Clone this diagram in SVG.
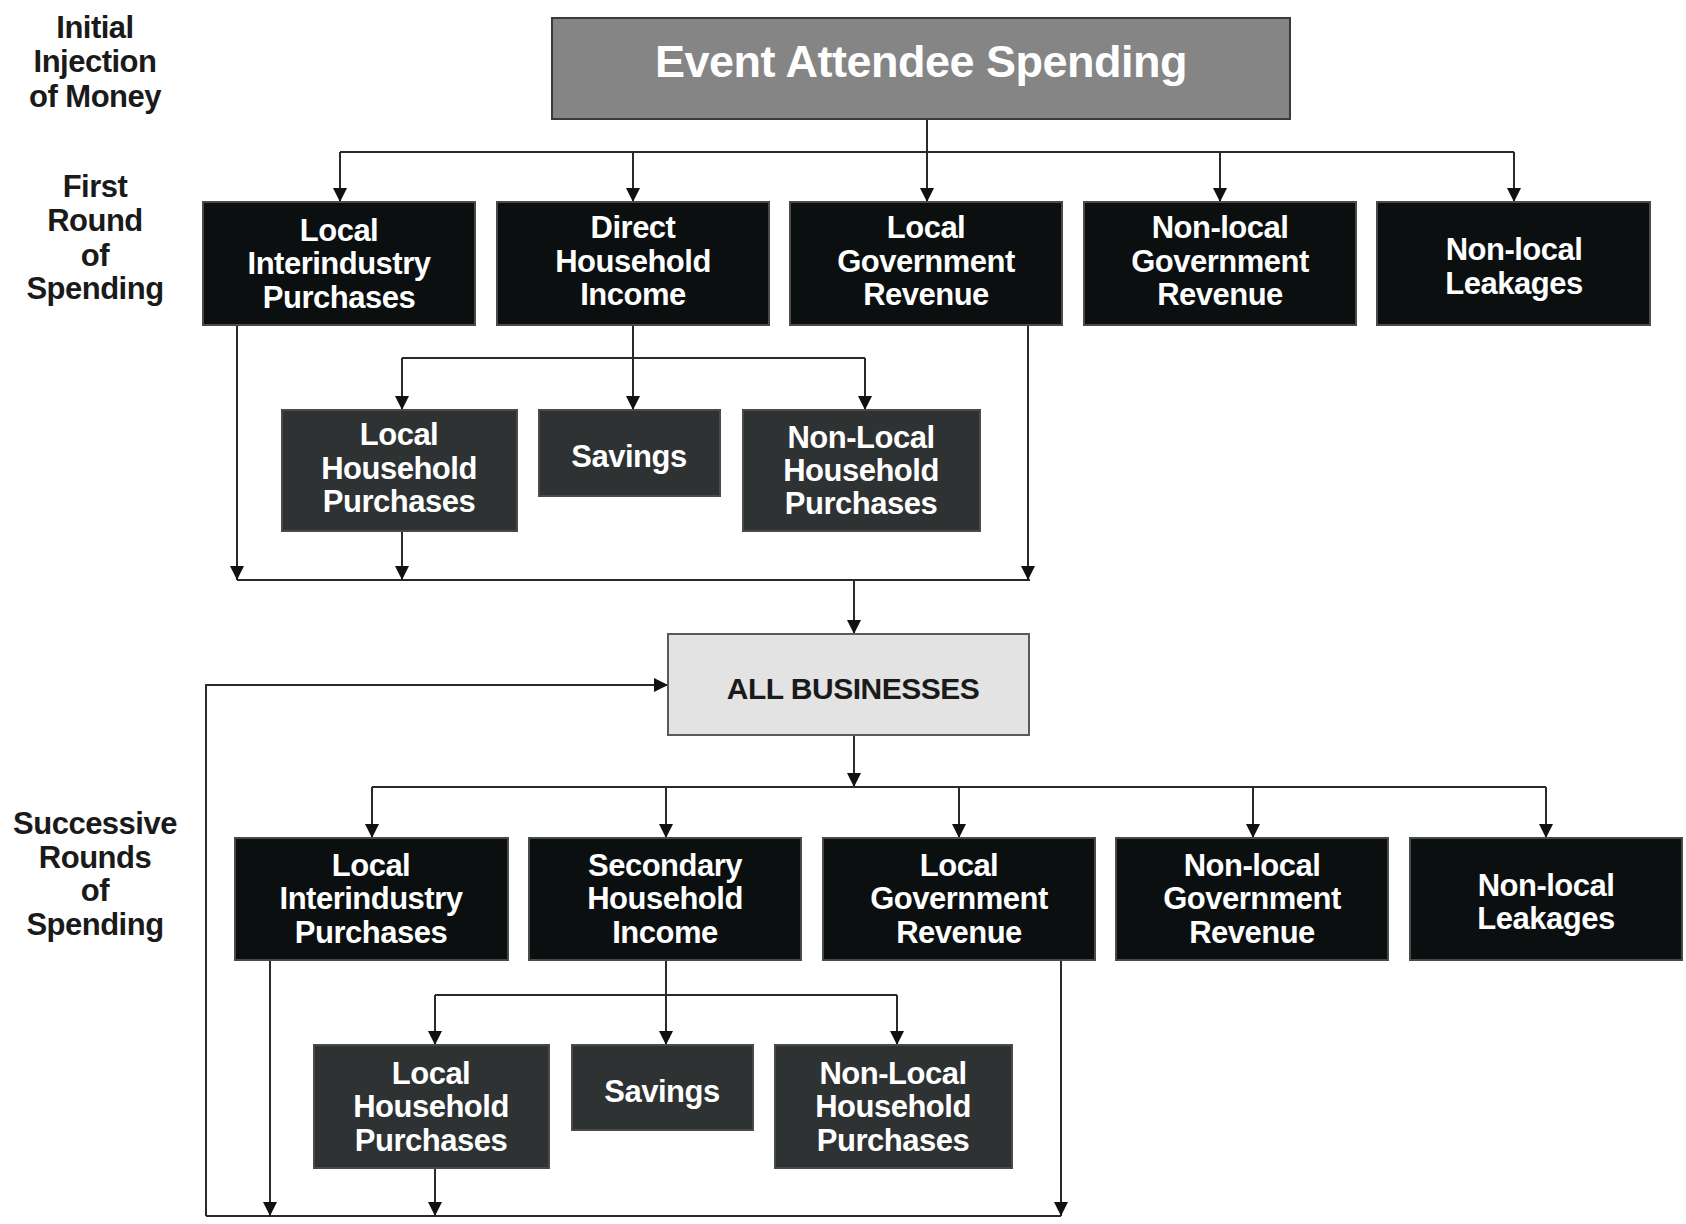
<svg xmlns="http://www.w3.org/2000/svg" width="1686" height="1224" viewBox="0 0 1686 1224">
<style>
.bk{fill:#0b0f10;stroke:#4a4a4a;stroke-width:2}
.dg{fill:#2f3233;stroke:#4a4a4a;stroke-width:2}
.t{font-family:"Liberation Sans",Arial,sans-serif;font-weight:bold;font-size:31px;fill:#fff;text-anchor:middle;letter-spacing:-0.5px}
.lb{font-family:"Liberation Sans",Arial,sans-serif;font-weight:bold;font-size:31px;fill:#1a1a1a;text-anchor:middle;letter-spacing:-0.5px}
.c{fill:none;stroke:#2a2a2a;stroke-width:2}
</style>
<defs>
<marker id="ah" markerUnits="userSpaceOnUse" markerWidth="14" markerHeight="16" viewBox="0 0 14 16" refX="14" refY="8" orient="auto">
<path d="M0 1 L14 8 L0 15 Z" fill="#111"/>
</marker>
</defs>
<rect width="1686" height="1224" fill="#fff"/>

<g id="labels">
<text class="lb" x="95" y="38">Initial</text>
<text class="lb" x="95" y="72">Injection</text>
<text class="lb" x="95" y="107">of Money</text>
<text class="lb" x="95" y="197">First</text>
<text class="lb" x="95" y="231">Round</text>
<text class="lb" x="95" y="266">of</text>
<text class="lb" x="95" y="299">Spending</text>
<text class="lb" x="95" y="834">Successive</text>
<text class="lb" x="95" y="868">Rounds</text>
<text class="lb" x="95" y="901">of</text>
<text class="lb" x="95" y="935">Spending</text>
</g>

<g id="connectors" class="c">
<path d="M340 152 H1514"/>
<path d="M927 119 V202" marker-end="url(#ah)"/>
<path d="M340 152 V202" marker-end="url(#ah)"/>
<path d="M633 152 V202" marker-end="url(#ah)"/>
<path d="M1220 152 V202" marker-end="url(#ah)"/>
<path d="M1514 152 V202" marker-end="url(#ah)"/>
<path d="M402 358 H865"/>
<path d="M633 325 V410" marker-end="url(#ah)"/>
<path d="M402 358 V410" marker-end="url(#ah)"/>
<path d="M865 358 V410" marker-end="url(#ah)"/>
<path d="M237 580 H1030"/>
<path d="M237 325 V580" marker-end="url(#ah)"/>
<path d="M402 531 V580" marker-end="url(#ah)"/>
<path d="M1028 325 V580" marker-end="url(#ah)"/>
<path d="M854 580 V634" marker-end="url(#ah)"/>
<path d="M854 735 V787" marker-end="url(#ah)"/>
<path d="M372 787 H1546"/>
<path d="M372 787 V838" marker-end="url(#ah)"/>
<path d="M666 787 V838" marker-end="url(#ah)"/>
<path d="M959 787 V838" marker-end="url(#ah)"/>
<path d="M1253 787 V838" marker-end="url(#ah)"/>
<path d="M1546 787 V838" marker-end="url(#ah)"/>
<path d="M435 995 H897"/>
<path d="M666 960 V1045" marker-end="url(#ah)"/>
<path d="M435 995 V1045" marker-end="url(#ah)"/>
<path d="M897 995 V1045" marker-end="url(#ah)"/>
<path d="M206 1216 H1061"/>
<path d="M270 960 V1216" marker-end="url(#ah)"/>
<path d="M435 1168 V1216" marker-end="url(#ah)"/>
<path d="M1061 960 V1216" marker-end="url(#ah)"/>
<path d="M206 1216 V685 H668" marker-end="url(#ah)"/>
</g>

<g id="event">
<rect x="552" y="18" width="738" height="101" fill="#858585" stroke="#3a3a3a" stroke-width="2"/>
<text class="t" x="921" y="77" style="font-size:45px">Event Attendee Spending</text>
</g>

<g id="r1-interindustry">
<rect class="bk" x="203" y="202" width="272" height="123"/>
<text class="t" x="339" y="241">Local</text>
<text class="t" x="339" y="274">Interindustry</text>
<text class="t" x="339" y="308">Purchases</text>
</g>
<g id="r1-income">
<rect class="bk" x="497" y="202" width="272" height="123"/>
<text class="t" x="633" y="238">Direct</text>
<text class="t" x="633" y="272">Household</text>
<text class="t" x="633" y="305">Income</text>
</g>
<g id="r1-localgov">
<rect class="bk" x="790" y="202" width="272" height="123"/>
<text class="t" x="926" y="238">Local</text>
<text class="t" x="926" y="272">Government</text>
<text class="t" x="926" y="305">Revenue</text>
</g>
<g id="r1-nonlocalgov">
<rect class="bk" x="1084" y="202" width="272" height="123"/>
<text class="t" x="1220" y="238">Non-local</text>
<text class="t" x="1220" y="272">Government</text>
<text class="t" x="1220" y="305">Revenue</text>
</g>
<g id="r1-leakages">
<rect class="bk" x="1377" y="202" width="273" height="123"/>
<text class="t" x="1514" y="260">Non-local</text>
<text class="t" x="1514" y="294">Leakages</text>
</g>

<g id="s1-localhh">
<rect class="dg" x="282" y="410" width="235" height="121"/>
<text class="t" x="399" y="445">Local</text>
<text class="t" x="399" y="479">Household</text>
<text class="t" x="399" y="512">Purchases</text>
</g>
<g id="s1-savings">
<rect class="dg" x="539" y="410" width="181" height="86"/>
<text class="t" x="629" y="467">Savings</text>
</g>
<g id="s1-nonlocalhh">
<rect class="dg" x="743" y="410" width="237" height="121"/>
<text class="t" x="861" y="448">Non-Local</text>
<text class="t" x="861" y="481">Household</text>
<text class="t" x="861" y="514">Purchases</text>
</g>

<g id="all-businesses">
<rect x="668" y="634" width="361" height="101" fill="#e3e3e3" stroke="#5a5a5a" stroke-width="2"/>
<text class="lb" x="853" y="699" style="font-size:30px">ALL BUSINESSES</text>
</g>

<g id="r2-interindustry">
<rect class="bk" x="235" y="838" width="273" height="122"/>
<text class="t" x="371" y="876">Local</text>
<text class="t" x="371" y="909">Interindustry</text>
<text class="t" x="371" y="943">Purchases</text>
</g>
<g id="r2-income">
<rect class="bk" x="529" y="838" width="272" height="122"/>
<text class="t" x="665" y="876">Secondary</text>
<text class="t" x="665" y="909">Household</text>
<text class="t" x="665" y="943">Income</text>
</g>
<g id="r2-localgov">
<rect class="bk" x="823" y="838" width="272" height="122"/>
<text class="t" x="959" y="876">Local</text>
<text class="t" x="959" y="909">Government</text>
<text class="t" x="959" y="943">Revenue</text>
</g>
<g id="r2-nonlocalgov">
<rect class="bk" x="1116" y="838" width="272" height="122"/>
<text class="t" x="1252" y="876">Non-local</text>
<text class="t" x="1252" y="909">Government</text>
<text class="t" x="1252" y="943">Revenue</text>
</g>
<g id="r2-leakages">
<rect class="bk" x="1410" y="838" width="272" height="122"/>
<text class="t" x="1546" y="896">Non-local</text>
<text class="t" x="1546" y="929">Leakages</text>
</g>

<g id="s2-localhh">
<rect class="dg" x="314" y="1045" width="235" height="123"/>
<text class="t" x="431" y="1084">Local</text>
<text class="t" x="431" y="1117">Household</text>
<text class="t" x="431" y="1151">Purchases</text>
</g>
<g id="s2-savings">
<rect class="dg" x="572" y="1045" width="181" height="85"/>
<text class="t" x="662" y="1102">Savings</text>
</g>
<g id="s2-nonlocalhh">
<rect class="dg" x="775" y="1045" width="237" height="123"/>
<text class="t" x="893" y="1084">Non-Local</text>
<text class="t" x="893" y="1117">Household</text>
<text class="t" x="893" y="1151">Purchases</text>
</g>
</svg>
